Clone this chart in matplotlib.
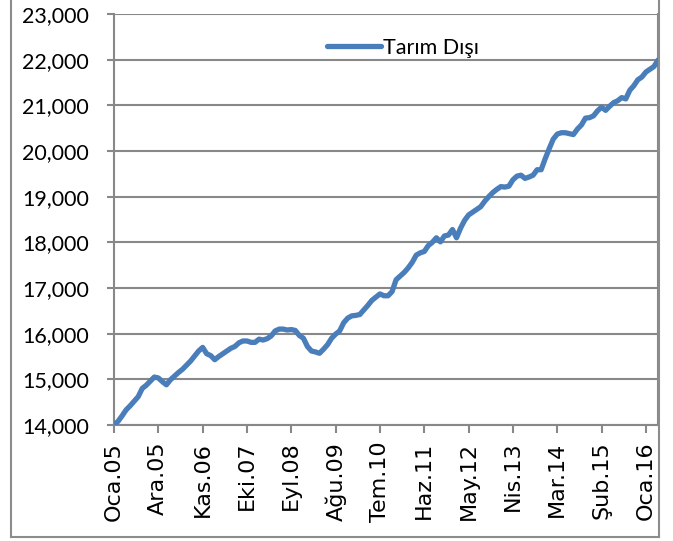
import matplotlib
matplotlib.use("Agg")
import matplotlib.pyplot as plt
from matplotlib.lines import Line2D

series_name = "Tarım Dışı"
values = [
    14000, 14080, 14200, 14330, 14420, 14520, 14620, 14800, 14870, 14960,
    15050, 15030, 14950, 14880, 14990, 15070, 15150, 15220, 15310, 15400,
    15510, 15620, 15700, 15560, 15520, 15430, 15500, 15560, 15620, 15680,
    15720, 15800, 15840, 15840, 15810, 15810, 15880, 15860, 15890, 15950,
    16060, 16100, 16100, 16080, 16090, 16070, 15960, 15900, 15720, 15620,
    15600, 15570, 15660, 15760, 15900, 15990, 16060, 16240, 16340, 16390,
    16400, 16420, 16520, 16620, 16730, 16800, 16870, 16830, 16830, 16920,
    17180, 17260, 17340, 17440, 17560, 17720, 17770, 17800, 17930, 18000,
    18100, 18010, 18140, 18160, 18280, 18100, 18310, 18480, 18600, 18660,
    18720, 18780, 18900, 19000, 19090, 19160, 19220, 19210, 19230, 19370,
    19450, 19470, 19400, 19430, 19470, 19590, 19590, 19830, 20050, 20260,
    20370, 20400, 20400, 20380, 20360, 20480, 20570, 20720, 20730, 20770,
    20880, 20960, 20890, 20980, 21060, 21100, 21170, 21140, 21330, 21430,
    21560, 21620, 21730, 21790, 21850, 21990,
]
tick_labels = ["Oca.05", "Ara.05", "Kas.06", "Eki.07", "Eyl.08", "Ağu.09",
               "Tem.10", "Haz.11", "May.12", "Nis.13", "Mar.14", "Şub.15", "Oca.16"]
y_ticks = [14000, 15000, 16000, 17000, 18000, 19000, 20000, 21000, 22000, 23000]

W, H = 673, 541
fig = plt.figure(figsize=(W / 100, H / 100), dpi=100)
ax = fig.add_axes([114 / W, 1 - 425 / H, (658 - 114) / W, (425 - 14) / H])

x = list(range(len(values)))
line_color = "#4A7EBB"
ax.plot(x, values, color=line_color, lw=3.8, solid_capstyle="round",
        solid_joinstyle="round", zorder=3)

ax.set_xlim(0, len(values) - 1)
ax.set_ylim(14000, 23000)
ax.set_yticks(y_ticks)
ax.set_yticklabels([f"{v:,}" for v in y_ticks], fontsize=15.5, family="Lato")
ax.set_xticks([i * 11 for i in range(len(tick_labels))])
ax.set_xticklabels(tick_labels, rotation=90, fontsize=16, family="DejaVu Sans",
                   va="top", ha="center")

grid_c = "#888888"
ax.yaxis.grid(True, color=grid_c, lw=1.5)
ax.set_axisbelow(True)
ax.spines["top"].set_visible(False)
for s in ["left", "bottom", "right"]:
    ax.spines[s].set_color(grid_c)
    ax.spines[s].set_linewidth(1.5)
ax.tick_params(axis="y", length=5, width=1.5, color=grid_c, pad=13)
ax.tick_params(axis="x", length=6, width=1.5, color=grid_c, pad=6)

# legend
handle = Line2D([0], [0], color=line_color, lw=3.8, solid_capstyle="round")
ax.legend([handle], [series_name], loc="center left",
          bbox_to_anchor=((316 - 114) / (658 - 114), 1 - (48 - 14) / (425 - 14)),
          frameon=False, handlelength=2.5, handletextpad=0.1,
          prop={"family": "Lato", "size": 15.5}, borderpad=0)

# outer chart border
border_c = "#8c8c8c"
fig.add_artist(Line2D([11 / W, 11 / W], [1.0, 1 - 537 / H], color=border_c, lw=1.5,
                      transform=fig.transFigure))
fig.add_artist(Line2D([11 / W, 659 / W], [1 - 537 / H, 1 - 537 / H], color=border_c, lw=1.5,
                      transform=fig.transFigure))
fig.add_artist(Line2D([659 / W, 659 / W], [1.0, 1 - 537 / H], color=border_c, lw=1.5,
                      transform=fig.transFigure))

fig.savefig("out.png", dpi=100)
